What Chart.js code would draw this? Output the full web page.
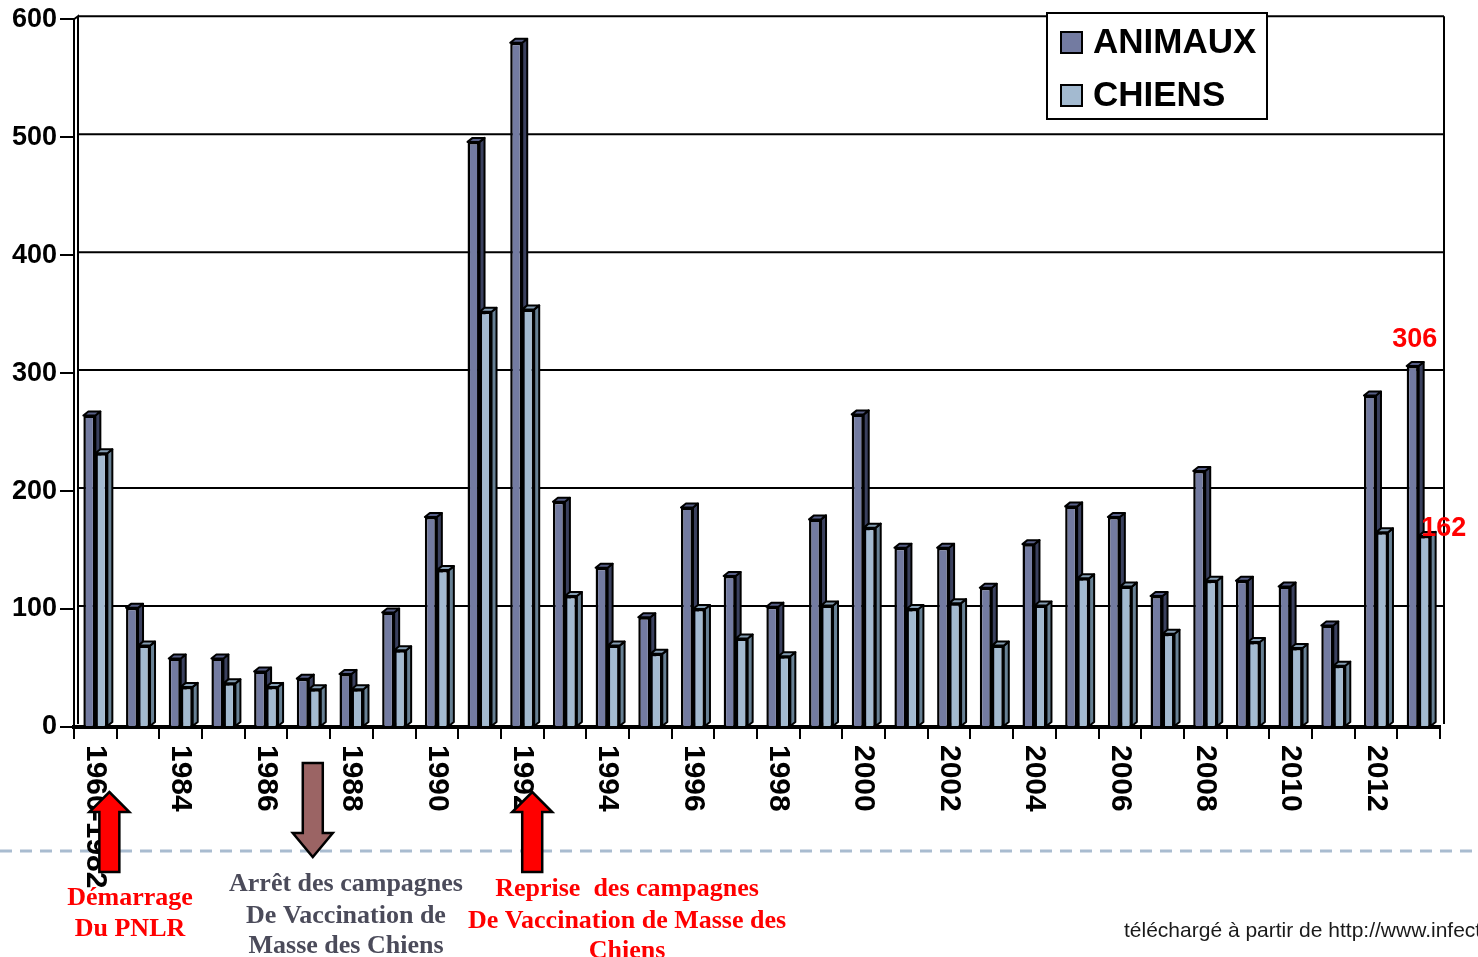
<!DOCTYPE html>
<html lang="fr">
<head>
<meta charset="utf-8">
<title>Rage animale et canine</title>
<script src="https://cdn.jsdelivr.net/npm/chart.js@4.4.1/dist/chart.umd.min.js"></script>
<style>
  html, body { margin: 0; padding: 0; background: #fff; overflow: hidden; }
  #wrap { position: relative; width: 1478px; height: 957px; }
</style>
</head>
<body>
<div id="wrap"><canvas id="chart" width="1478" height="957"></canvas></div>
<script>
(() => {
  const years = [
    "1960-1982", "1983", "1984", "1985", "1986", "1987", "1988", "1989",
    "1990", "1991", "1992", "1993", "1994", "1995", "1996", "1997",
    "1998", "1999", "2000", "2001", "2002", "2003", "2004", "2005",
    "2006", "2007", "2008", "2009", "2010", "2011", "2012", "2013",
  ];
  const animaux = [
    264, 101, 58, 58, 47, 41, 45, 97,
    178, 496, 580, 191, 135, 93, 186, 128,
    102, 176, 265, 152, 152, 118, 155, 187,
    178, 111, 217, 124, 119, 86, 281, 306,
  ];
  const chiens = [
    232, 69, 34, 37, 34, 32, 32, 65,
    133, 352, 354, 111, 69, 62, 100, 75,
    60, 103, 169, 100, 105, 69, 103, 126,
    119, 79, 124, 72, 67, 52, 165, 162,
  ];
  const yTicks = [0, 100, 200, 300, 400, 500, 600];
  const labelledIndex = years.length - 1;

  const SANS = '"Liberation Sans", Arial, sans-serif';
  const SERIF = '"Liberation Serif", "Times New Roman", serif';

  // depth of the bars and of the back wall
  const DEPTH_X = 5;
  const DEPTH_Y = 4;
  const WALL_X = 4;
  const WALL_Y = 3;

  const faces = [
    { front: "#737ba1", side: "#3a405e", top: "#565e86" },
    { front: "#a3bad0", side: "#678094", top: "#849db3" },
  ];

  const events = [
    { index: 0, dx: 14, dir: "up", fill: "#ff0000", color: "#ff0000", cx: 130,
      lines: ["Démarrage", "Du PNLR"], ys: [898, 929] },
    { index: 5, dx: 4, dir: "down", fill: "#9b6464", color: "#4b4b5a", cx: 346,
      lines: ["Arrêt des campagnes", "De Vaccination de", "Masse des Chiens"], ys: [884, 916, 946] },
    { index: 10, dx: 10, dir: "up", fill: "#ff0000", color: "#ff0000", cx: 627,
      lines: ["Reprise  des campagnes", "De Vaccination de Masse des", "Chiens"], ys: [889, 921, 951] },
  ];

  const polygon = (ctx, pts, fill) => {
    ctx.beginPath();
    ctx.moveTo(pts[0][0], pts[0][1]);
    pts.slice(1).forEach(([px, py]) => ctx.lineTo(px, py));
    ctx.closePath();
    ctx.fillStyle = fill;
    ctx.fill();
    ctx.stroke();
  };

  const depthPlugin = {
    id: "depth",
    beforeDatasetsDraw(chart) {
      const { ctx, chartArea, scales } = chart;
      const yScale = scales.y;
      ctx.save();
      ctx.strokeStyle = "#000";
      ctx.lineWidth = 2;

      // grid lines on the back wall
      yScale.ticks.forEach((tick) => {
        if (tick.value === 0) {
          return;
        }
        const py = yScale.getPixelForValue(tick.value) - WALL_Y;
        ctx.beginPath();
        ctx.moveTo(chartArea.left + WALL_X, py);
        ctx.lineTo(chartArea.right + WALL_X, py);
        ctx.stroke();
      });

      const wallTop = chartArea.top - WALL_Y;
      ctx.beginPath();
      ctx.moveTo(chartArea.left + WALL_X, chartArea.bottom - WALL_Y);
      ctx.lineTo(chartArea.left + WALL_X, wallTop);
      ctx.lineTo(chartArea.left, chartArea.top);
      ctx.moveTo(chartArea.right + WALL_X, chartArea.bottom - WALL_Y);
      ctx.lineTo(chartArea.right + WALL_X, wallTop);
      ctx.stroke();

      // side and top faces of every bar
      ctx.lineWidth = 2;
      ctx.lineJoin = "round";
      chart.data.datasets.forEach((_, di) => {
        const meta = chart.getDatasetMeta(di);
        meta.data.forEach((bar) => {
          const { x, y, base, width } = bar.getProps(["x", "y", "base", "width"], true);
          const l = x - width / 2;
          const r = x + width / 2;
          polygon(ctx, [[r, base], [r, y], [r + DEPTH_X, y - DEPTH_Y], [r + DEPTH_X, base - DEPTH_Y]], faces[di].side);
          polygon(ctx, [[l, y], [l + DEPTH_X, y - DEPTH_Y], [r + DEPTH_X, y - DEPTH_Y], [r, y]], faces[di].top);
        });
      });
      ctx.restore();
    },
  };

  const drawArrow = (ctx, x, ev) => {
    const shaft = 10;
    const head = 20;
    let pts;
    if (ev.dir === "up") {
      const tip = 792, neck = 812, tail = 872;
      pts = [[x, tip], [x + head, neck], [x + shaft, neck], [x + shaft, tail],
             [x - shaft, tail], [x - shaft, neck], [x - head, neck]];
    } else {
      const tail = 763, neck = 833, tip = 857;
      pts = [[x - shaft, tail], [x + shaft, tail], [x + shaft, neck], [x + head, neck],
             [x, tip], [x - head, neck], [x - shaft, neck]];
    }
    ctx.lineWidth = 2.5;
    ctx.lineJoin = "miter";
    ctx.strokeStyle = "#000";
    polygon(ctx, pts, ev.fill);
  };

  const overlayPlugin = {
    id: "overlay",
    afterDraw(chart) {
      const { ctx, chartArea, scales } = chart;
      const xScale = scales.x;
      ctx.save();

      // dashed separator
      ctx.strokeStyle = "#a9bcd0";
      ctx.lineWidth = 3;
      ctx.setLineDash([12, 8]);
      ctx.beginPath();
      ctx.moveTo(0, 851);
      ctx.lineTo(chart.width, 851);
      ctx.stroke();
      ctx.setLineDash([]);

      // vertical category labels, every other year
      ctx.fillStyle = "#000";
      ctx.font = `bold 30px ${SANS}`;
      ctx.textAlign = "left";
      ctx.textBaseline = "middle";
      years.forEach((label, i) => {
        if (i % 2) {
          return;
        }
        ctx.save();
        ctx.translate(xScale.getPixelForValue(i), chartArea.bottom + 18);
        ctx.rotate(Math.PI / 2);
        ctx.fillText(label, 0, 0);
        ctx.restore();
      });

      // event arrows and captions
      events.forEach((ev) => {
        drawArrow(ctx, xScale.getPixelForValue(ev.index) + ev.dx, ev);
        ctx.fillStyle = ev.color;
        ctx.font = `bold 26px ${SERIF}`;
        ctx.textAlign = "center";
        ctx.textBaseline = "middle";
        ev.lines.forEach((line, k) => ctx.fillText(line, ev.cx, ev.ys[k]));
      });

      // values of the last year
      ctx.fillStyle = "#ff0000";
      ctx.font = `bold 27px ${SANS}`;
      ctx.textAlign = "center";
      ctx.textBaseline = "middle";
      const barA = chart.getDatasetMeta(0).data[labelledIndex];
      const barC = chart.getDatasetMeta(1).data[labelledIndex];
      ctx.fillText(String(animaux[labelledIndex]), barA.x + 2, barA.y - 26);
      ctx.fillText(String(chiens[labelledIndex]), barC.x + 19, barC.y - 7);

      // legend
      const box = { x: 1047, y: 13, w: 220, h: 106 };
      ctx.fillStyle = "#fff";
      ctx.fillRect(box.x, box.y, box.w, box.h);
      ctx.strokeStyle = "#000";
      ctx.lineWidth = 2;
      ctx.strokeRect(box.x, box.y, box.w, box.h);
      ctx.font = `bold 35px ${SANS}`;
      ctx.textAlign = "left";
      chart.data.datasets.forEach((ds, di) => {
        const cy = 42.5 + di * 53;
        ctx.fillStyle = faces[di].front;
        ctx.fillRect(1061, cy - 10.5, 21, 21);
        ctx.lineWidth = 2;
        ctx.strokeRect(1061, cy - 10.5, 21, 21);
        ctx.fillStyle = "#000";
        ctx.fillText(ds.label, 1093, cy + 1);
      });

      // source line
      ctx.fillStyle = "#1a1a1a";
      ctx.font = `21px ${SANS}`;
      ctx.fillText("téléchargé à partir de http://www.infectiologie.com", 1124, 931);
      ctx.restore();
    },
  };

  const barStyle = (di) => ({
    backgroundColor: faces[di].front,
    borderColor: "#000",
    borderWidth: 2.5,
    borderSkipped: "start",
  });

  new Chart(document.getElementById("chart"), {
    type: "bar",
    data: {
      labels: years,
      datasets: [
        { label: "ANIMAUX", data: animaux, ...barStyle(0) },
        { label: "CHIENS", data: chiens, ...barStyle(1) },
      ],
    },
    options: {
      responsive: false,
      animation: false,
      events: [],
      layout: { padding: { top: 16, right: 38, left: 0, bottom: 0 } },
      datasets: {
        bar: { categoryPercentage: 0.562, barPercentage: 1.0 },
      },
      plugins: {
        legend: { display: false },
        tooltip: { enabled: false },
      },
      scales: {
        x: {
          ticks: { display: false },
          grid: {
            offset: true,
            drawOnChartArea: false,
            tickLength: 12,
            color: "#000",
            lineWidth: 2,
          },
          border: { color: "#000", width: 4 },
          afterFit(scale) {
            scale.height = 230;
          },
        },
        y: {
          min: 0,
          max: 600,
          afterBuildTicks(scale) {
            scale.ticks = yTicks.map((value) => ({ value }));
          },
          ticks: {
            color: "#000",
            padding: 3,
            font: { family: SANS, size: 27, weight: "bold" },
          },
          grid: {
            drawOnChartArea: false,
            tickLength: 14,
            color: "#000",
            lineWidth: 2,
          },
          border: { color: "#000", width: 2 },
          afterFit(scale) {
            scale.width = 74;
          },
        },
      },
    },
    plugins: [depthPlugin, overlayPlugin],
  });
})();
</script>
</body>
</html>
